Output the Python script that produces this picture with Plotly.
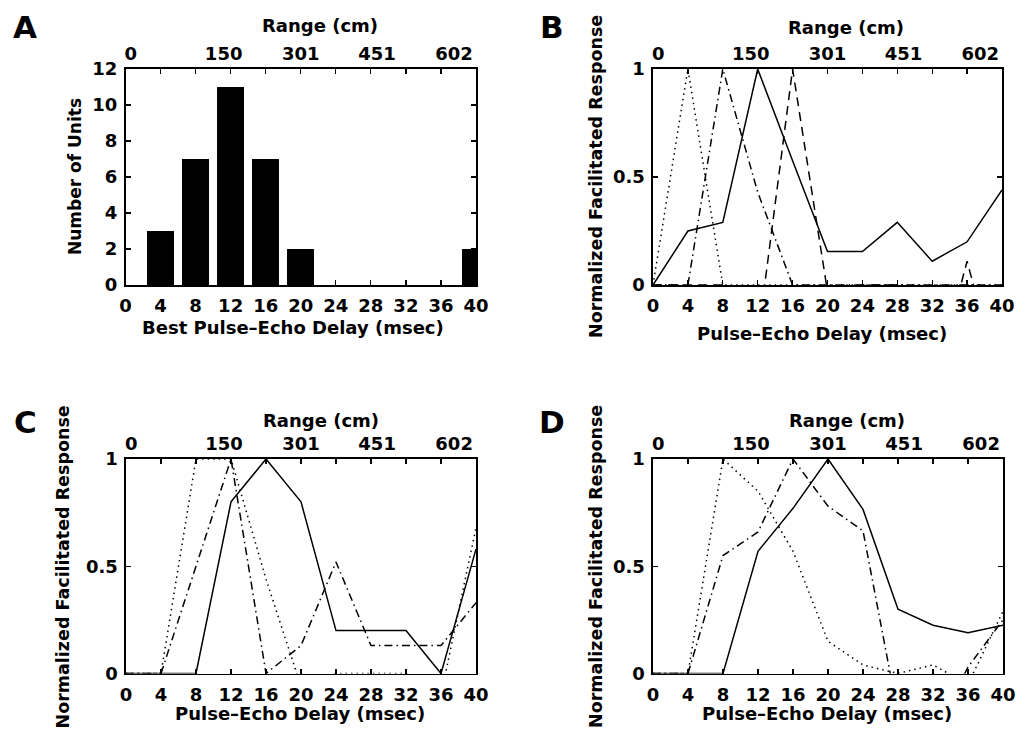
import plotly.graph_objects as go

# ---------------- data ----------------
DELAYS = [0, 4, 8, 12, 16, 20, 24, 28, 32, 36, 40]          # msec
BAR_DELAYS = [4, 8, 12, 16, 20, 24, 28, 32, 36, 40]          # msec
UNIT_COUNTS = [3, 7, 11, 7, 2, 0, 0, 0, 0, 2]

RANGE_LABELS = ["0", "150", "301", "451", "602"]             # cm
RANGE_LABEL_POS = [0.6, 11.2, 20.0, 28.7, 37.5]              # msec position of label

X_TICKS = [0, 4, 8, 12, 16, 20, 24, 28, 32, 36, 40]
A_Y_TICKS = [0, 2, 4, 6, 8, 10, 12]
NORM_Y_TICKS = [0, 0.5, 1]
NORM_Y_TEXT = ["0", "0.5", "1"]

# panel B
B_solid = [0, 0.25, 0.29, 1.0, 0.575, 0.155, 0.155, 0.29, 0.11, 0.20, 0.44]
B_dotted = [0, 1.0, 0, 0, 0, 0, 0, 0, 0, 0, 0]
B_dashdot = [0, 0, 1.0, 0.43, 0, 0, 0, 0, 0, 0, 0]
B_dashed = [0, 0, 0, -0.25, 1.0, -0.03, 0, 0, -0.5, 0.11, -0.5]

# panel C
C_solid = [0, 0, 0, 0.80, 1.0, 0.80, 0.20, 0.20, 0.20, 0.0, 0.58]
C_dotted = [0, 0, 1.0, 1.0, 0.44, -0.06, 0, 0, 0, -0.1, 0.68]
C_dashdot = [0, 0, 0.5, 1.0, 0, 0.13, 0.52, 0.13, 0.13, 0.13, 0.33]

# panel D
D_solid = [0, 0, 0, 0.57, 0.77, 1.0, 0.765, 0.30, 0.225, 0.19, 0.225]
D_dotted = [0, 0, 1.0, 0.85, 0.57, 0.15, 0.04, 0.0, 0.04, -0.05, 0.29]
D_dashdot = [0, 0, 0.55, 0.66, 1.0, 0.78, 0.665, -0.19, -0.3, 0.03, 0.25]

# ---------------- layout helpers ----------------
W, H = 1029, 734
FONT = "DejaVu Sans"


def px(x):
    return x / W


def py(y):
    return 1 - y / H


STY = {
    "solid": dict(color="black", width=1.5, dash="solid"),
    "dot": dict(color="black", width=1.5, dash="1.5px,4px"),
    "dash": dict(color="black", width=1.5, dash="9px,6px"),
    "dashdot": dict(color="black", width=1.5, dash="8px,4px,1.5px,4px"),
}

fig = go.Figure()

# Panel A bars
fig.add_trace(go.Bar(x=BAR_DELAYS, y=UNIT_COUNTS, width=3.1,
                     marker=dict(color="black", line=dict(width=0)),
                     xaxis="x", yaxis="y", showlegend=False, hoverinfo="skip"))


def add_line(vals, style, ax):
    fig.add_trace(go.Scatter(x=DELAYS, y=vals, mode="lines", line=STY[style],
                             xaxis="x" + ax, yaxis="y" + ax, showlegend=False,
                             hoverinfo="skip"))


for vals, st in [(B_dotted, "dot"), (B_dashdot, "dashdot"), (B_dashed, "dash"), (B_solid, "solid")]:
    add_line(vals, st, "2")
for vals, st in [(C_dotted, "dot"), (C_dashdot, "dashdot"), (C_solid, "solid")]:
    add_line(vals, st, "3")
for vals, st in [(D_dotted, "dot"), (D_dashdot, "dashdot"), (D_solid, "solid")]:
    add_line(vals, st, "4")

tickfont = dict(family=FONT, size=18, color="black", weight="bold")

panels = {
    # name: (left, right, top, bottom) in pixels
    "1": (125.5, 476, 69, 285),
    "2": (653, 1002, 69, 285),
    "3": (126, 476, 459, 673.5),
    "4": (653, 1003, 459, 673.5),
}

layout = dict(
    template="none",
    width=W, height=H, autosize=False,
    margin=dict(l=0, r=0, t=0, b=0, pad=0, autoexpand=False),
    paper_bgcolor="white", plot_bgcolor="white",
    font=dict(family=FONT, size=18, color="black", weight="bold"),
    showlegend=False, bargap=0,
)

for k, (l, r, t, b) in panels.items():
    xs = "" if k == "1" else k
    ys = "" if k == "1" else k
    layout["xaxis" + xs] = dict(
        domain=[px(l), px(r)], anchor="y" + ys, range=[0, 40],
        tickmode="array", tickvals=X_TICKS, ticks="inside", ticklen=5,
        tickwidth=1.2, tickcolor="black", showline=True, linecolor="black",
        linewidth=1.6, mirror="ticks", showgrid=False, zeroline=False,
        tickfont=tickfont, ticklabelstandoff=4, fixedrange=True, automargin=False,
    )
    if k == "1":
        ydict = dict(range=[0, 12], tickmode="array", tickvals=A_Y_TICKS)
    else:
        ydict = dict(range=[0, 1], tickmode="array", tickvals=NORM_Y_TICKS,
                     ticktext=NORM_Y_TEXT)
    layout["yaxis" + ys] = dict(
        domain=[py(b), py(t)], anchor="x" + xs,
        ticks="inside", ticklen=5, tickwidth=1.2, tickcolor="black",
        showline=True, linecolor="black", linewidth=1.6, mirror="ticks",
        showgrid=False, zeroline=False, tickfont=tickfont,
        ticklabelstandoff=3, fixedrange=True, automargin=False, **ydict,
    )
    # top "Range (cm)" axis
    top = str(int(k) + 4)
    layout["xaxis" + top] = dict(
        overlaying="x" + xs, anchor="y" + ys, side="top", range=[0, 40],
        tickmode="array", tickvals=RANGE_LABEL_POS, ticktext=RANGE_LABELS,
        ticks="", showline=False, showgrid=False, zeroline=False,
        tickfont=tickfont, ticklabelstandoff=4, fixedrange=True, automargin=False,
    )
    # invisible carrier trace so the top axis is drawn
    fig.add_trace(go.Scatter(x=RANGE_LABEL_POS, y=[None] * len(RANGE_LABEL_POS),
                             mode="lines", xaxis="x" + top, yaxis="y" + ys,
                             showlegend=False, hoverinfo="skip"))

annots = []


def ann(text, x, y, size=18, angle=0):
    annots.append(dict(text=text, x=px(x), y=py(y), xref="paper", yref="paper",
                       showarrow=False, textangle=angle, xanchor="center",
                       yanchor="middle",
                       font=dict(family=FONT, size=size, color="black", weight="bold")))


# panel letters
for letter, (x, y) in {"A": (25, 27), "B": (552, 27), "C": (25, 422), "D": (552, 422)}.items():
    ann(letter, x, y, size=31)

# top titles
for x, y in [(320, 25), (846, 27), (321, 420), (847, 420)]:
    ann("Range (cm)", x, y, size=18)

# bottom titles
ann("Best Pulse\u2013Echo Delay (msec)", 293, 328)
ann("Pulse\u2013Echo Delay (msec)", 822, 333)
ann("Pulse\u2013Echo Delay (msec)", 300, 713)
ann("Pulse\u2013Echo Delay (msec)", 827, 713)

# y titles
ann("Number of Units", 75, 177, size=17, angle=-90)
ann("Normalized Facilitated Response", 596, 177, size=17.5, angle=-90)
ann("Normalized Facilitated Response", 62.5, 567, size=17.5, angle=-90)
ann("Normalized Facilitated Response", 596, 567, size=17.5, angle=-90)

layout["annotations"] = annots
fig.update_layout(**layout)

fig.write_html("out.html",
               config={"displayModeBar": False, "staticPlot": True},
               post_script="document.body.style.margin='0';document.body.style.overflow='hidden';")
